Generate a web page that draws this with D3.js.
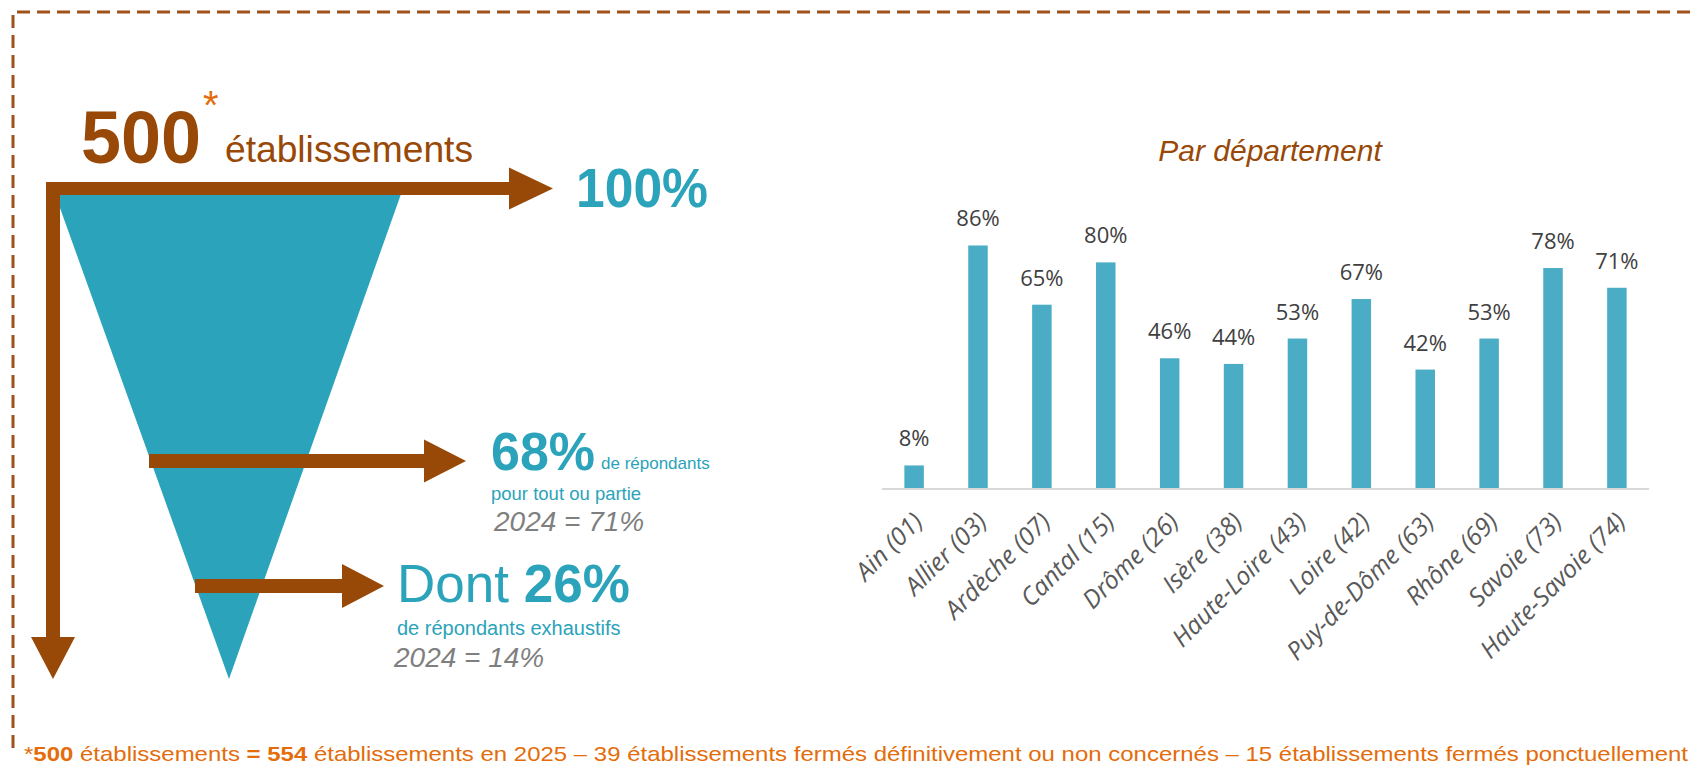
<!DOCTYPE html>
<html>
<head>
<meta charset="utf-8">
<script src="https://cdn.jsdelivr.net/npm/d3@7"></script>
<style>
  body { margin: 0; background: #fff; }
  svg { display: block; }
</style>
</head>
<body>
<svg id="chart"></svg>
<script>
// données
var departements = ["Ain (01)", "Allier (03)", "Ardèche (07)", "Cantal (15)", "Drôme (26)", "Isère (38)",
                    "Haute-Loire (43)", "Loire (42)", "Puy-de-Dôme (63)", "Rhône (69)", "Savoie (73)", "Haute-Savoie (74)"];
var tauxReponse = [8, 86, 65, 80, 46, 44, 53, 67, 42, 53, 78, 71];
var totalEtab = 500;
var tauxGlobal = 68;
var tauxExhaustif = 26;
var taux2024 = 71;
var exhaustif2024 = 14;

var W = 1692, H = 773;
var brown = "#984807", teal = "#2ba3ba", orange = "#e46c0a", barCol = "#4bacc6";
var sans = "'Liberation Sans', Arial, sans-serif";

var svg = d3.select('#chart').attr('width', W).attr('height', H);

// cadre pointillé
svg.append('path')
   .attr('d', "M13,748 L13,12 L" + W + ",12")
   .attr('fill', 'none').attr('stroke', '#a0521a').attr('stroke-width', 3)
   .attr('stroke-dasharray', '13,7');

// entonnoir
svg.append('path')
   .attr('d', "M55,194 L401,194 L229,679 Z")
   .attr('fill', teal);

function hArrow(x0, x1, yc, thick, headLen, half){
  var xs = x1 - headLen;
  return "M"+x0+","+(yc-thick/2)+" L"+xs+","+(yc-thick/2)+" L"+xs+","+(yc-half)+" L"+x1+","+yc+
         " L"+xs+","+(yc+half)+" L"+xs+","+(yc+thick/2)+" L"+x0+","+(yc+thick/2)+" Z";
}

var arrows = svg.append('g').attr('fill', brown);
arrows.append('path').attr('d', hArrow(46, 553, 188.5, 13, 44, 21));
// flèche verticale
arrows.append('path').attr('d', "M46,182 L60,182 L60,637 L75,637 L53,679 L31,637 L46,637 Z");
arrows.append('path').attr('d', hArrow(149, 466, 461, 14, 42, 21.5));
arrows.append('path').attr('d', hArrow(195, 384, 586, 14, 42, 22));

// textes de l'entonnoir
var txt = svg.append('g').attr('font-family', sans);
txt.append('text').attr('x', 81).attr('y', 163).attr('font-size', 75).attr('font-weight', 'bold')
   .attr('fill', brown).attr('textLength', 120).attr('lengthAdjust', 'spacingAndGlyphs').text(totalEtab);
txt.append('text').attr('x', 203).attr('y', 119).attr('font-size', 40).attr('fill', orange).text('*');
txt.append('text').attr('x', 225).attr('y', 162).attr('font-size', 36).attr('fill', brown)
   .attr('textLength', 248).attr('lengthAdjust', 'spacingAndGlyphs').text('établissements');
txt.append('text').attr('x', 576).attr('y', 207).attr('font-size', 55).attr('font-weight', 'bold')
   .attr('fill', teal).attr('textLength', 132).attr('lengthAdjust', 'spacingAndGlyphs').text('100%');

txt.append('text').attr('x', 491).attr('y', 470).attr('font-size', 53).attr('font-weight', 'bold')
   .attr('fill', teal).attr('textLength', 104).attr('lengthAdjust', 'spacingAndGlyphs').text(tauxGlobal + '%');
txt.append('text').attr('x', 601).attr('y', 469).attr('font-size', 17).attr('fill', teal).text('de répondants');
txt.append('text').attr('x', 491).attr('y', 500).attr('font-size', 18.5).attr('fill', teal).text('pour tout ou partie');
txt.append('text').attr('x', 494).attr('y', 531).attr('font-size', 28).attr('font-style', 'italic')
   .attr('fill', '#7f7f7f').text('2024 = ' + taux2024 + '%');

var dont = txt.append('text').attr('x', 397).attr('y', 602).attr('font-size', 53).attr('fill', teal);
dont.append('tspan').text('Dont ');
dont.append('tspan').attr('font-weight', 'bold').text(tauxExhaustif + '%');
txt.append('text').attr('x', 397).attr('y', 635).attr('font-size', 20).attr('fill', teal).text('de répondants exhaustifs');
txt.append('text').attr('x', 394).attr('y', 667).attr('font-size', 28).attr('font-style', 'italic')
   .attr('fill', '#7f7f7f').text('2024 = ' + exhaustif2024 + '%');

// note de bas de page
var note = svg.append('text').attr('x', 24).attr('y', 761).attr('font-family', sans).attr('font-size', 21)
   .attr('fill', orange).attr('textLength', 1664).attr('lengthAdjust', 'spacingAndGlyphs');
note.append('tspan').text('*');
note.append('tspan').attr('font-weight', 'bold').text('500');
note.append('tspan').text(' établissements ');
note.append('tspan').attr('font-weight', 'bold').text('= 554');
note.append('tspan').text(' établissements en 2025 – 39 établissements fermés définitivement ou non concernés – 15 établissements fermés ponctuellement');

// graphique par département
var chartLeft = 882, chartRight = 1649, baseY = 488;
var x = d3.scaleBand().domain(departements).range([chartLeft, chartRight]).paddingInner(0.695).paddingOuter(0.35);
var y = d3.scaleLinear().domain([0, 100]).range([baseY, baseY - 282]);

svg.append('text').attr('x', 1270).attr('y', 161).attr('text-anchor', 'middle')
   .attr('font-family', sans).attr('font-size', 30).attr('font-style', 'italic').attr('fill', brown)
   .text('Par département');

var data = departements.map(function(d, i){ return {dep: d, val: tauxReponse[i]}; });

svg.append('g').selectAll('rect').data(data).enter().append('rect')
   .attr('x', function(d){ return x(d.dep); })
   .attr('y', function(d){ return y(d.val); })
   .attr('width', x.bandwidth())
   .attr('height', function(d){ return baseY - y(d.val); })
   .attr('fill', barCol);

svg.append('g').selectAll('text').data(data).enter().append('text')
   .attr('x', function(d){ return x(d.dep) + x.bandwidth()/2; })
   .attr('y', function(d){ return y(d.val) - 19; })
   .attr('text-anchor', 'middle')
   .attr('font-family', "'Open Sans', sans-serif").attr('font-size', 22).attr('fill', '#404040')
   .text(function(d){ return d.val + '%'; });

var xAxis = svg.append('g').attr('transform', 'translate(0,' + baseY + ')')
   .call(d3.axisBottom(x).tickSize(0).tickSizeOuter(0));
xAxis.select('.domain').attr('stroke', '#d9d9d9').attr('stroke-width', 2).attr('d', 'M' + chartLeft + ',1H' + chartRight);
xAxis.selectAll('.tick text')
   .attr('font-family', "'Open Sans', sans-serif").attr('font-size', 25).attr('font-style', 'italic')
   .attr('fill', '#595959')
   .attr('text-anchor', 'end')
   .attr('x', 0).attr('y', 0).attr('dy', '0.75em')
   .attr('transform', 'translate(-3,22) rotate(-45)');
</script>
</body>
</html>
